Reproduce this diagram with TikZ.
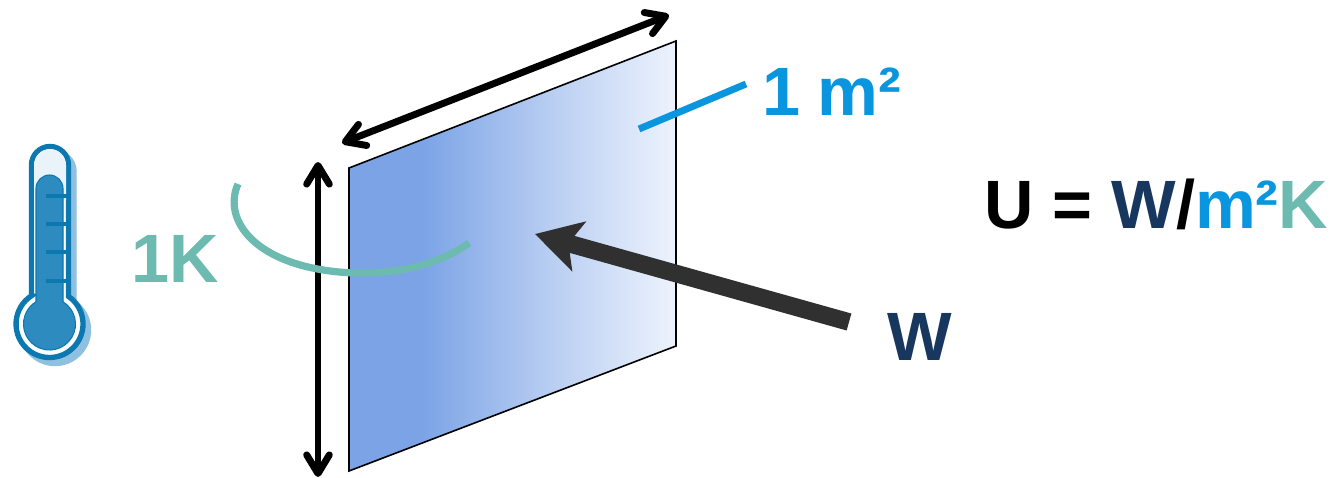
\documentclass[tikz,border=0pt]{standalone}
\usepackage{fontspec}
\setmainfont{Liberation Sans}
\usetikzlibrary{arrows.meta}
\definecolor{navyc}{HTML}{17375E}
\definecolor{bluec}{HTML}{0A96DE}
\definecolor{tealc}{HTML}{6CBAB0}
\definecolor{darkc}{HTML}{303030}
\definecolor{thermline}{HTML}{0B78B0}
\definecolor{thermfill}{HTML}{2E8BC0}
\definecolor{thermshadow}{HTML}{8FC0DF}
\definecolor{thermglass}{HTML}{EAF3FA}
\definecolor{pa}{HTML}{7BA3E6}
\definecolor{pb}{HTML}{B9CEF2}
\definecolor{pc}{HTML}{EDF3FD}
\pgfdeclarehorizontalshading{panelshade}{100bp}{color(0bp)=(pa); color(36bp)=(pa); color(56bp)=(pb); color(75bp)=(pc); color(100bp)=(pc)}
\tikzset{
  label text/.style={inner sep=0pt,anchor=base west,font=\fontsize{51.3pt}{60pt}\selectfont\bfseries},
  dim arrow/.style={line width=5.2pt,black,{Straight Barb[round,length=14pt,width=17pt,line width=5.2pt]}-{Straight Barb[round,length=14pt,width=17pt,line width=5.2pt]}},
  leader/.style={line width=5.2pt,bluec},
  heat arrow/.style={line width=13.2pt,darkc,-{Stealth[length=34pt,width=38pt,inset=8pt]}},
  delta arc/.style={line width=5.4pt,tealc},
  panel edge/.style={draw=black,line width=1.2pt,line join=miter}
}
\begin{document}
\begin{tikzpicture}[x=0.75pt,y=-0.75pt]
\useasboundingbox (0,0) rectangle (1338,478);
\fill[white] (0,0) rectangle (1338,478);
% panel
\begin{scope}
\clip (349,168) -- (676,41) -- (676,346) -- (349,471) -- cycle;
\shade[shading=panelshade] (349,41) rectangle (676,471);
\end{scope}
\draw[panel edge] (349,168) -- (676,41) -- (676,346) -- (349,471) -- cycle;
% thermometer
\newcommand{\thermpath}{(31.5,295.75) -- (31.5,165) arc (180:360:18.5) -- (68.5,296.4) arc (-55.5:237.5:33.5) -- cycle}
\fill[thermshadow,shift={(5.5,6)},draw=thermshadow,line width=4pt] \thermpath;
\filldraw[fill=white,draw=thermline,line width=4pt] \thermpath;
\fill[thermglass] (34,165) arc (180:360:16) -- (66,200) -- (34,200) -- cycle;
\filldraw[fill=thermfill,draw=thermline,line width=0.8pt] (36,301.8) -- (36,188.5) arc (180:360:13.5) -- (63,301.8) arc (-58.7:238.7:26) -- cycle;
\foreach \ty in {196,224,252,281}{\draw[thermline,line width=2.6pt] (46,\ty) -- (68,\ty);}
% arrows
\coordinate (vb) at (318,477);
\coordinate (vt) at (318,162);
\coordinate (hl) at (342,143);
\coordinate (hr) at (669,15);
\draw[dim arrow] (vb) -- (vt);
\draw[dim arrow] (hl) -- (hr);
\coordinate (a1) at (238,184);
\coordinate (a2) at (345,272.5);
\coordinate (a3) at (469,243);
\draw[delta arc] (a1) .. controls (222,220) and (255,266) .. (a2) .. controls (395,276) and (440,264) .. (a3);
\coordinate (l1) at (639,129);
\coordinate (l2) at (746,84);
\draw[leader] (l1) -- (l2);
\coordinate (h1) at (849,322);
\coordinate (h2) at (535,234);
\draw[heat arrow] (h1) -- (h2);
% labels
\node[label text,text=bluec] (area) at (762,115.5) {1\kern-1pt{} m²};
\node[label text,text=tealc] (kelvin) at (131,282) {1K};
\node[label text,text=navyc] (watt) at (887,360) {W};
\node[label text] (eq) at (984,228) {U = \textcolor{navyc}{W}/\textcolor{bluec}{m²}\textcolor{tealc}{K}};
\end{tikzpicture}
\end{document}
